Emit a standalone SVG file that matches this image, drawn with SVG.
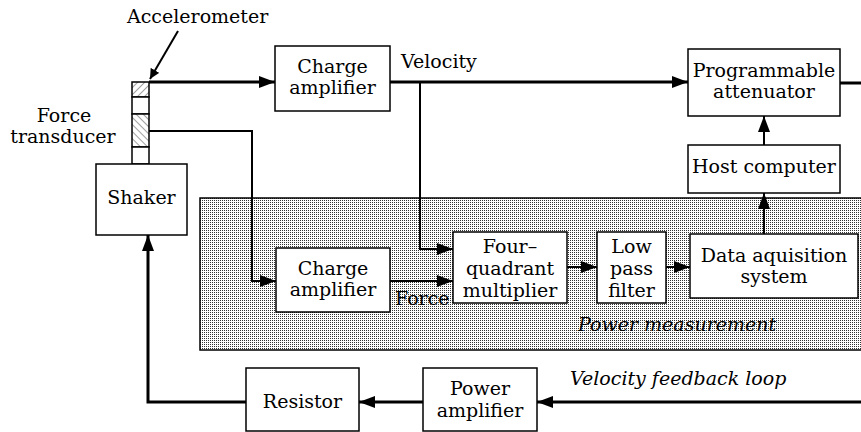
<svg xmlns="http://www.w3.org/2000/svg" width="861" height="432" viewBox="0 0 861 432">
<defs>
<pattern id="dots" width="2" height="2" patternUnits="userSpaceOnUse">
<rect width="2" height="2" fill="#ffffff"/>
<rect width="1" height="1" fill="#333333"/>
</pattern>
<pattern id="hatchA" width="5" height="5" patternUnits="userSpaceOnUse" patternTransform="rotate(45)">
<rect width="5" height="5" fill="#fff"/>
<line x1="0" y1="0" x2="0" y2="5" stroke="#444" stroke-width="1"/>
</pattern>
<pattern id="hatchB" width="5" height="5" patternUnits="userSpaceOnUse" patternTransform="rotate(-45)">
<rect width="5" height="5" fill="#fff"/>
<line x1="0" y1="0" x2="0" y2="5" stroke="#444" stroke-width="1"/>
</pattern>
<marker id="big" viewBox="0 0 16 12" refX="16" refY="6" markerWidth="16" markerHeight="12" orient="auto" markerUnits="userSpaceOnUse">
<path d="M0,0 L16,6 L0,12 z" fill="#000"/>
</marker>
<marker id="thin" viewBox="0 0 10 10" refX="10" refY="5" markerWidth="10" markerHeight="10" orient="auto" markerUnits="userSpaceOnUse">
<path d="M0,0 L10,5 L0,10 z" fill="#000"/>
</marker>
</defs>
<style>
text{font-family:"DejaVu Serif","Liberation Serif",serif;font-size:19px;fill:#000}
.c{text-anchor:middle}
.i{font-style:italic}
.box{fill:#fff;stroke:#000;stroke-width:1.5}
.thick{fill:none;stroke:#000;stroke-width:3}
.med{fill:none;stroke:#000;stroke-width:2}
</style>

<g id="power-measurement">
<rect x="200" y="198" width="665" height="152" fill="url(#dots)" stroke="#000" stroke-width="1.5"/>
<text class="i" x="578" y="331">Power measurement</text>
</g>

<g id="connectors">
<path class="med" d="M178,31 L150,79" marker-end="url(#thin)"/>
<path class="thick" d="M149,82 H275" marker-end="url(#big)"/>
<path class="thick" d="M390,82 H688" marker-end="url(#big)"/>
<path class="thick" d="M840,83 H861"/>
<path class="med" d="M149,131 H252 V281 H276" marker-end="url(#big)"/>
<path class="med" d="M420,82 V249 H453" marker-end="url(#big)"/>
<path class="med" d="M390,281 H453" marker-end="url(#big)"/>
<path class="med" d="M567,267 H597" marker-end="url(#big)"/>
<path class="med" d="M666,267 H690" marker-end="url(#big)"/>
<path class="med" d="M764,234 V193" marker-end="url(#big)"/>
<path class="med" d="M764,145 V116" marker-end="url(#big)"/>
<path class="thick" d="M861,402 H537" marker-end="url(#big)"/>
<path class="thick" d="M423,402 H359" marker-end="url(#big)"/>
<path class="thick" d="M246,402 H148 V235" marker-end="url(#big)"/>
</g>

<g id="labels">
<text x="127" y="23">Accelerometer</text>
<text class="c" x="64" y="122">Force</text>
<text class="c" x="63" y="143">transducer</text>
<text x="401" y="68">Velocity</text>
<text x="395" y="305">Force</text>
<text class="i" x="570" y="385">Velocity feedback loop</text>
</g>

<g id="sensor">
<rect x="132" y="82" width="17" height="15" fill="url(#hatchA)" stroke="#000" stroke-width="1.5"/>
<rect x="132" y="97" width="17" height="17" fill="#fff" stroke="#000" stroke-width="1.5"/>
<rect x="132" y="114" width="17" height="33" fill="url(#hatchB)" stroke="#000" stroke-width="1.5"/>
<rect x="132" y="147" width="17" height="17" fill="#fff" stroke="#000" stroke-width="1.5"/>
</g>

<g id="shaker">
<rect class="box" x="96" y="164" width="91" height="71"/>
<text class="c" x="141.5" y="204">Shaker</text>
</g>

<g id="charge-amp-1">
<rect class="box" x="275" y="46" width="115" height="65"/>
<text class="c" x="332.5" y="73">Charge</text>
<text class="c" x="332.5" y="94">amplifier</text>
</g>

<g id="attenuator">
<rect class="box" x="688" y="49" width="152" height="67"/>
<text class="c" x="764" y="77">Programmable</text>
<text class="c" x="764" y="98">attenuator</text>
</g>

<g id="host">
<rect class="box" x="688" y="145" width="152" height="48"/>
<text class="c" x="764" y="173">Host computer</text>
</g>

<g id="charge-amp-2">
<rect class="box" x="276" y="248" width="114" height="64"/>
<text class="c" x="333" y="275">Charge</text>
<text class="c" x="333" y="296">amplifier</text>
</g>

<g id="multiplier">
<rect class="box" x="453" y="232" width="114" height="71"/>
<text class="c" x="510" y="253">Four–</text>
<text class="c" x="510" y="275">quadrant</text>
<text class="c" x="510" y="297">multiplier</text>
</g>

<g id="lowpass">
<rect class="box" x="597" y="232" width="69" height="71"/>
<text class="c" x="631.5" y="253">Low</text>
<text class="c" x="631.5" y="275">pass</text>
<text class="c" x="631.5" y="297">filter</text>
</g>

<g id="daq">
<rect class="box" x="690" y="234" width="168" height="64"/>
<text class="c" x="774" y="262">Data aquisition</text>
<text class="c" x="774" y="283">system</text>
</g>

<g id="resistor">
<rect class="box" x="246" y="368" width="113" height="63"/>
<text class="c" x="302.5" y="408">Resistor</text>
</g>

<g id="power-amp">
<rect class="box" x="423" y="368" width="114" height="63"/>
<text class="c" x="480" y="395">Power</text>
<text class="c" x="480" y="417">amplifier</text>
</g>
</svg>
